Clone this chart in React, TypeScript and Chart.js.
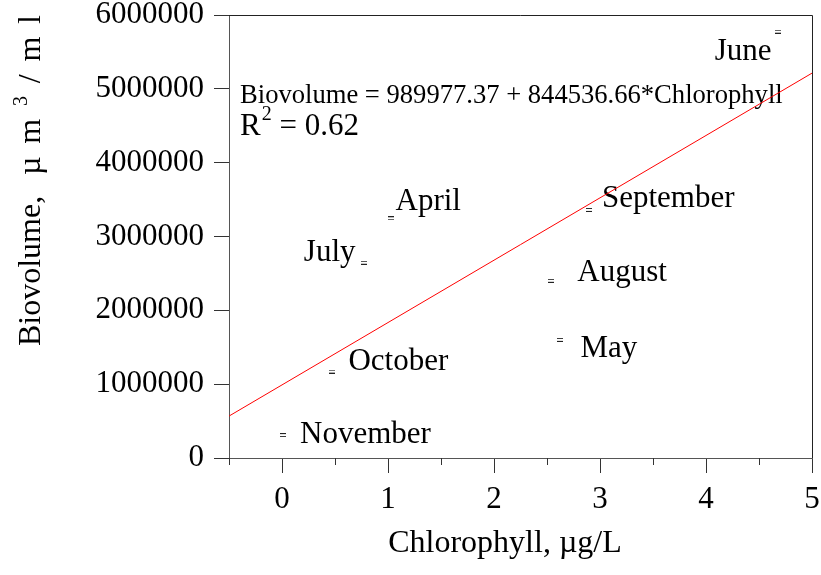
import { useEffect, useRef } from 'react';
import { Chart, registerables } from 'chart.js';

Chart.register(...registerables);

const MONTHS = ['November', 'October', 'July', 'April', 'August', 'May', 'September', 'June'];
const CHLOROPHYLL = [0.01, 0.476, 0.769, 1.024, 2.54, 2.618, 2.896, 4.675];
const BIOVOLUME = [310000, 1170000, 2645000, 3247000, 2400000, 1600000, 3360000, 5774000];
const INTERCEPT = 989977.37;
const SLOPE = 844536.66;
const FIT_X = [-0.5, 5];
const X_TICKS = [-0.5, 0, 0.5, 1, 1.5, 2, 2.5, 3, 3.5, 4, 4.5, 5];
const Y_TICKS = [0, 1000000, 2000000, 3000000, 4000000, 5000000, 6000000];
const EQUATION = 'Biovolume = 989977.37 + 844536.66*Chlorophyll';
const R2_TEXT = ' = 0.62';
const X_TITLE = 'Chlorophyll, µg/L';
const Y_TITLE_MAIN = 'Biovolume,';
const Y_TITLE_UNIT = [' ', 'µ', 'm', '3', '/', 'm', 'l'];

// label placement (pixel offsets from the marker), style only
const LABEL_PLACE: { dx: number; dy: number; align: CanvasTextAlign }[] = [
  { dx: 17, dy: 8, align: 'left' },
  { dx: 16, dy: -2, align: 'left' },
  { dx: -8, dy: -2, align: 'right' },
  { dx: 5, dy: -8, align: 'left' },
  { dx: 26, dy: 0, align: 'left' },
  { dx: 21, dy: 17, align: 'left' },
  { dx: 13, dy: -3, align: 'left' },
  { dx: -6, dy: 28, align: 'right' },
];

const FONT = "'Liberation Serif', 'Times New Roman', serif";

function makeMarker() {
  const c = document.createElement('canvas');
  c.width = 6;
  c.height = 4;
  const g = c.getContext('2d')!;
  g.fillStyle = '#222';
  g.fillRect(0, 0, 6, 1);
  g.fillRect(0, 3, 6, 1);
  return c;
}

export default function App() {
  const ref = useRef<HTMLCanvasElement>(null);
  useEffect(() => {
    document.body.style.margin = '0';
    const canvas = ref.current!;
    const marker = makeMarker();

    const annotate = {
      id: 'annotate',
      beforeDatasetsDraw(chart: any) {
        const ctx = chart.ctx;
        const meta = chart.getDatasetMeta(0);
        ctx.save();
        ctx.fillStyle = '#000';
        ctx.textBaseline = 'alphabetic';
        ctx.font = `31px ${FONT}`;
        meta.data.forEach((pt: any, i: number) => {
          const p = LABEL_PLACE[i];
          ctx.textAlign = p.align;
          ctx.fillText(MONTHS[i], pt.x + p.dx, pt.y + p.dy);
        });
        const a = chart.chartArea;
        ctx.textAlign = 'left';
        ctx.font = `26.6px ${FONT}`;
        ctx.fillText(EQUATION, a.left + 11, 103);
        ctx.font = `31px ${FONT}`;
        ctx.fillText('R', a.left + 11, 135);
        const rw = ctx.measureText('R').width;
        ctx.font = `20px ${FONT}`;
        ctx.fillText('2', a.left + 11 + rw + 1, 120);
        const tw = ctx.measureText('2').width;
        ctx.font = `31px ${FONT}`;
        ctx.fillText(R2_TEXT, a.left + 12 + rw + tw, 135);
        ctx.restore();
      },
      afterDraw(chart: any) {
        const ctx = chart.ctx;
        const a = chart.chartArea;
        const xs = chart.scales.x;
        ctx.save();
        ctx.strokeStyle = '#222';
        ctx.lineWidth = 1;
        ctx.beginPath();
        ctx.moveTo(a.left, a.top + 0.5);
        ctx.lineTo(a.right + 0.5, a.top + 0.5);
        ctx.lineTo(a.right + 0.5, a.bottom);
        ctx.stroke();
        ctx.strokeStyle = '#333';
        ctx.beginPath();
        X_TICKS.forEach((v) => {
          if (!Number.isInteger(v)) {
            const px = Math.round(xs.getPixelForValue(v)) + 0.5;
            ctx.moveTo(px, a.bottom);
            ctx.lineTo(px, a.bottom + 7);
          }
        });
        ctx.stroke();
        ctx.fillStyle = '#000';
        // x axis title
        ctx.font = `32px ${FONT}`;
        ctx.textAlign = 'center';
        ctx.textBaseline = 'alphabetic';
        ctx.fillText(X_TITLE, a.left + 276, chart.height - 23);
        // y axis title (rotated), ends at the top of the plot area
        ctx.translate(40, 346);
        ctx.rotate(-Math.PI / 2);
        ctx.textAlign = 'left';
        ctx.font = `32px ${FONT}`;
        ctx.fillText(Y_TITLE_MAIN, 0, 0);
        const startU = ctx.measureText(Y_TITLE_MAIN).width;
        const endU = 346 - a.top;
        const widths = Y_TITLE_UNIT.map((ch, i) => {
          ctx.font = i === 3 ? `20px ${FONT}` : `32px ${FONT}`;
          return ctx.measureText(ch).width;
        });
        const natural = widths.reduce((s, w) => s + w, 0);
        const gap = (endU - startU - natural) / (Y_TITLE_UNIT.length - 1);
        let pos = startU;
        Y_TITLE_UNIT.forEach((ch, i) => {
          ctx.font = i === 3 ? `20px ${FONT}` : `32px ${FONT}`;
          ctx.fillText(ch, pos, i === 3 ? -13 : 0);
          pos += widths[i] + gap;
        });
        ctx.restore();
      },
    };

    const chart = new Chart(canvas, {
      type: 'scatter',
      data: {
        datasets: [
          {
            type: 'scatter',
            data: CHLOROPHYLL.map((x, i) => ({ x, y: BIOVOLUME[i] })),
            pointStyle: marker as any,
            pointRadius: 3,
          },
          {
            type: 'line',
            data: FIT_X.map((x) => ({ x, y: INTERCEPT + SLOPE * x })),
            borderColor: 'rgb(255,0,0)',
            borderWidth: 1,
            pointRadius: 0,
            fill: false,
          },
        ],
      },
      plugins: [annotate],
      options: {
        responsive: false,
        animation: false,
        events: [],
        layout: { padding: { top: 15, right: 9, left: 0, bottom: 0 } },
        plugins: { legend: { display: false }, tooltip: { enabled: false } },
        font: { family: FONT },
        scales: {
          x: {
            type: 'linear',
            min: -0.5,
            max: 5,
            afterBuildTicks: (s: any) => {
              s.ticks = X_TICKS.map((value) => ({ value }));
            },
            afterFit: (s: any) => {
              s.height = 117;
              s.paddingLeft = 0;
              s.paddingRight = 0;
            },
            ticks: {
              autoSkip: false,
              maxRotation: 0,
              padding: 8,
              color: '#000',
              font: { family: FONT, size: 31 },
              callback: (v: any) => (Number.isInteger(Number(v)) ? String(v) : ''),
            },
            grid: {
              drawOnChartArea: false,
              drawTicks: true,
              tickLength: 15,
              color: (c: any) => (c.tick && Number.isInteger(c.tick.value) ? '#333' : 'rgba(0,0,0,0)'),
            },
            border: { display: true, color: '#555' },
          },
          y: {
            type: 'linear',
            min: 0,
            max: 6000000,
            afterBuildTicks: (s: any) => {
              s.ticks = Y_TICKS.map((value) => ({ value }));
            },
            afterFit: (s: any) => {
              s.width = 229;
              s.paddingTop = 0;
              s.paddingBottom = 0;
            },
            ticks: {
              padding: 10,
              color: '#000',
              font: { family: FONT, size: 31 },
              callback: (v: any) => String(v),
            },
            grid: {
              drawOnChartArea: false,
              drawTicks: true,
              tickLength: 15,
              color: '#333',
            },
            border: { display: true, color: '#555' },
          },
        },
      },
    });
    return () => chart.destroy();
  }, []);
  return <canvas ref={ref} width={821} height={575} style={{ display: 'block' }} />;
}
